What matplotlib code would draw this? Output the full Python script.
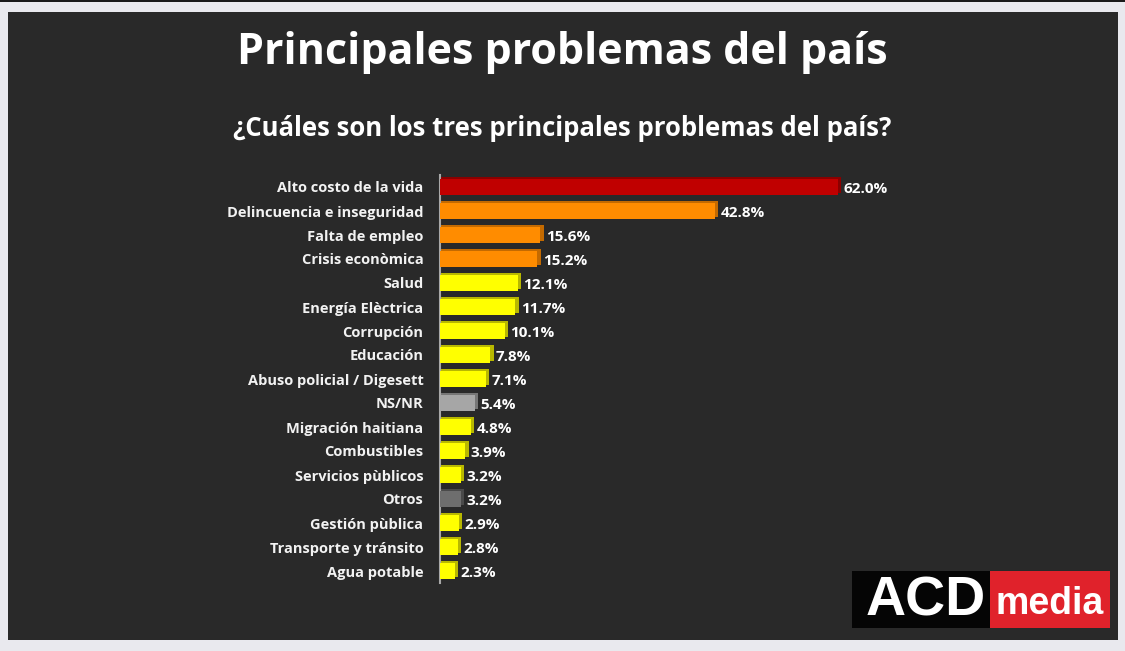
import matplotlib
matplotlib.use("Agg")
import matplotlib.pyplot as plt
from matplotlib.patches import Rectangle

categories = [
    "Alto costo de la vida", "Delincuencia e inseguridad", "Falta de empleo",
    "Crisis econòmica", "Salud", "Energía Elèctrica", "Corrupción", "Educación",
    "Abuso policial / Digesett", "NS/NR", "Migración haitiana", "Combustibles",
    "Servicios pùblicos", "Otros", "Gestión pùblica", "Transporte y tránsito",
    "Agua potable",
]
values = [62.0, 42.8, 15.6, 15.2, 12.1, 11.7, 10.1, 7.8, 7.1, 5.4, 4.8, 3.9,
          3.2, 3.2, 2.9, 2.8, 2.3]
groups = ["top", "high", "high", "high", "mid", "mid", "mid", "mid", "mid",
          "nsnr", "mid", "mid", "mid", "other", "mid", "mid", "mid"]

face = {"top": "#c00000", "high": "#ff8c00", "mid": "#ffff00",
        "nsnr": "#a6a6a6", "other": "#6e6e6e"}
side = {"top": "#8a0000", "high": "#c46a00", "mid": "#b8b800",
        "nsnr": "#767676", "other": "#4a4a4a"}

BG = "#292929"
FONT = "Open Sans"

fig = plt.figure(figsize=(11.25, 6.51), dpi=100)
fig.patch.set_facecolor("#e9e9ee")
fig.add_artist(Rectangle((8 / 1125, 11 / 651), 1110 / 1125, 628 / 651,
                         transform=fig.transFigure, facecolor=BG,
                         edgecolor="none", zorder=0))
fig.add_artist(Rectangle((0, 649 / 651), 1, 2 / 651, transform=fig.transFigure,
                         facecolor="#1a1a1a", edgecolor="none", zorder=0))

fig.text(0.5, 0.919, "Principales problemas del país", ha="center", va="center",
         color="white", fontsize=31, fontweight="bold", family="Open Sans")
fig.text(0.5, 0.803, "¿Cuáles son los tres principales problemas del país?",
         ha="center", va="center", color="white", fontsize=18.5,
         fontweight="bold", family="Open Sans")

ax = fig.add_axes([440 / 1125, 1 - 583 / 651, 449 / 1125, 408 / 651])
ax.set_facecolor("none")
ypos = list(range(len(values)))
for y, v, g in zip(ypos, values, groups):
    # darker back face gives the bevelled 3D look
    ax.barh(y - 0.08, v + 0.55, height=0.68, color=side[g], zorder=2)
    ax.barh(y, v, height=0.66, color=face[g], zorder=3)
    ax.text(v + 0.9, y + 0.08, f"{v:.1f}%", va="center", ha="left",
            color="white", fontsize=11, fontweight="bold", family=FONT)

ax.set_xlim(0, 70)
ax.set_ylim(len(values) - 0.5, -0.5)
ax.set_yticks(ypos)
ax.set_yticklabels(categories, fontsize=10.5, fontweight="bold", family=FONT,
                   color="#f2f2f2")
for lbl in ax.get_yticklabels():
    lbl.set_verticalalignment("center_baseline")
ax.tick_params(axis="y", length=0, pad=12)
ax.set_xticks([])
for s in ["top", "right", "bottom"]:
    ax.spines[s].set_visible(False)
ax.spines["left"].set_color("#a8a8a8")
ax.spines["left"].set_linewidth(1.5)

# logo
fig.add_artist(Rectangle((852 / 1125, 1 - 628 / 651), 138 / 1125, 57 / 651,
                         transform=fig.transFigure, facecolor="#050505",
                         edgecolor="none"))
fig.add_artist(Rectangle((990 / 1125, 1 - 628 / 651), 120 / 1125, 57 / 651,
                         transform=fig.transFigure, facecolor="#e0222b",
                         edgecolor="none"))
fig.text(926 / 1125, 1 - 601 / 651, "ACD", ha="center", va="center",
         color="white", fontsize=40, fontweight="bold", family="Liberation Sans")
fig.text(1050 / 1125, 1 - 604 / 651, "media", ha="center", va="center",
         color="white", fontsize=27, fontweight="bold", family="Liberation Sans")

fig.savefig("out.png", dpi=100, facecolor=fig.get_facecolor())
